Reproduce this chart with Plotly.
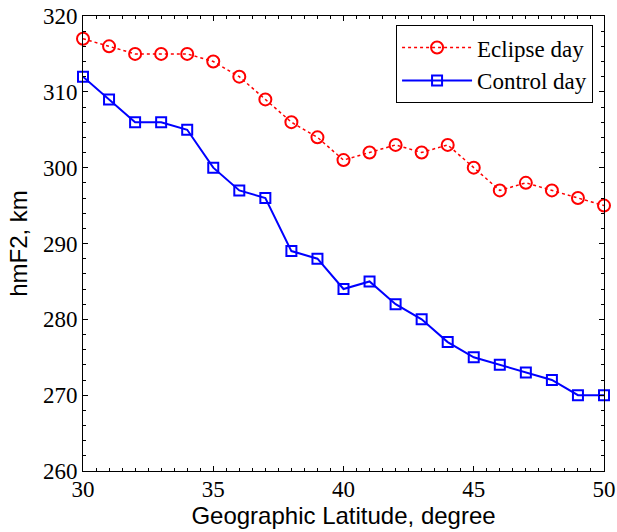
import plotly.graph_objects as go

latitude = [30, 31, 32, 33, 34, 35, 36, 37, 38, 39, 40, 41, 42, 43, 44, 45, 46, 47, 48, 49, 50]
eclipse_day = [317, 316, 315, 315, 315, 314, 312, 309, 306, 304, 301, 302, 303, 302, 303, 300, 297, 298, 297, 296, 295]
control_day = [312, 309, 306, 306, 305, 300, 297, 296, 289, 288, 284, 285, 282, 280, 277, 275, 274, 273, 272, 270, 270]

SERIF = "'Liberation Serif', 'Times New Roman', 'DejaVu Serif', serif"
SANS = "'Liberation Sans', Arial, sans-serif"

fig = go.Figure()
fig.add_trace(go.Scatter(
    x=latitude, y=eclipse_day, name="Eclipse day", mode="lines+markers",
    line=dict(color="#ff0000", width=1.5, dash="dot"),
    marker=dict(symbol="circle-open", size=12, color="#ff0000", line=dict(width=2)),
    cliponaxis=False))
fig.add_trace(go.Scatter(
    x=latitude, y=control_day, name="Control day", mode="lines+markers",
    line=dict(color="#0000ff", width=2),
    marker=dict(symbol="square-open", size=10, color="#0000ff", line=dict(width=2)),
    cliponaxis=False))

axis_common = dict(
    showgrid=False, zeroline=False, showline=True, linecolor="black", linewidth=1,
    mirror="allticks", ticks="inside", ticklen=5, tickcolor="black",
    tickfont=dict(family=SERIF, size=23, color="black"), automargin=False,
)
fig.update_xaxes(range=[30, 50], dtick=5, tick0=30,
                 minor=dict(dtick=0.5, ticks="inside", ticklen=3, tickcolor="black"),
                 title=dict(text="Geographic Latitude, degree",
                            font=dict(family=SANS, size=24, color="black"), standoff=0),
                 ticklabelstandoff=-3,
                 **axis_common)
fig.update_yaxes(range=[260, 320], dtick=10, tick0=260,
                 minor=dict(dtick=2, ticks="inside", ticklen=3, tickcolor="black"),
                 title=dict(text="hmF2, km",
                            font=dict(family=SANS, size=24, color="black"), standoff=8),
                 **axis_common)

fig.update_layout(
    width=617, height=532,
    margin=dict(l=83, r=13, t=16, b=61),
    paper_bgcolor="white", plot_bgcolor="white",
    legend=dict(x=0.979, y=0.98, xanchor="right", yanchor="top",
                bordercolor="black", borderwidth=1, bgcolor="white",
                font=dict(family=SERIF, size=23, color="black"),
                itemwidth=70, tracegroupgap=0),
    showlegend=True,
)
fig.write_html("out.html", config={"displayModeBar": False},
               post_script="document.body.style.margin='0';")
